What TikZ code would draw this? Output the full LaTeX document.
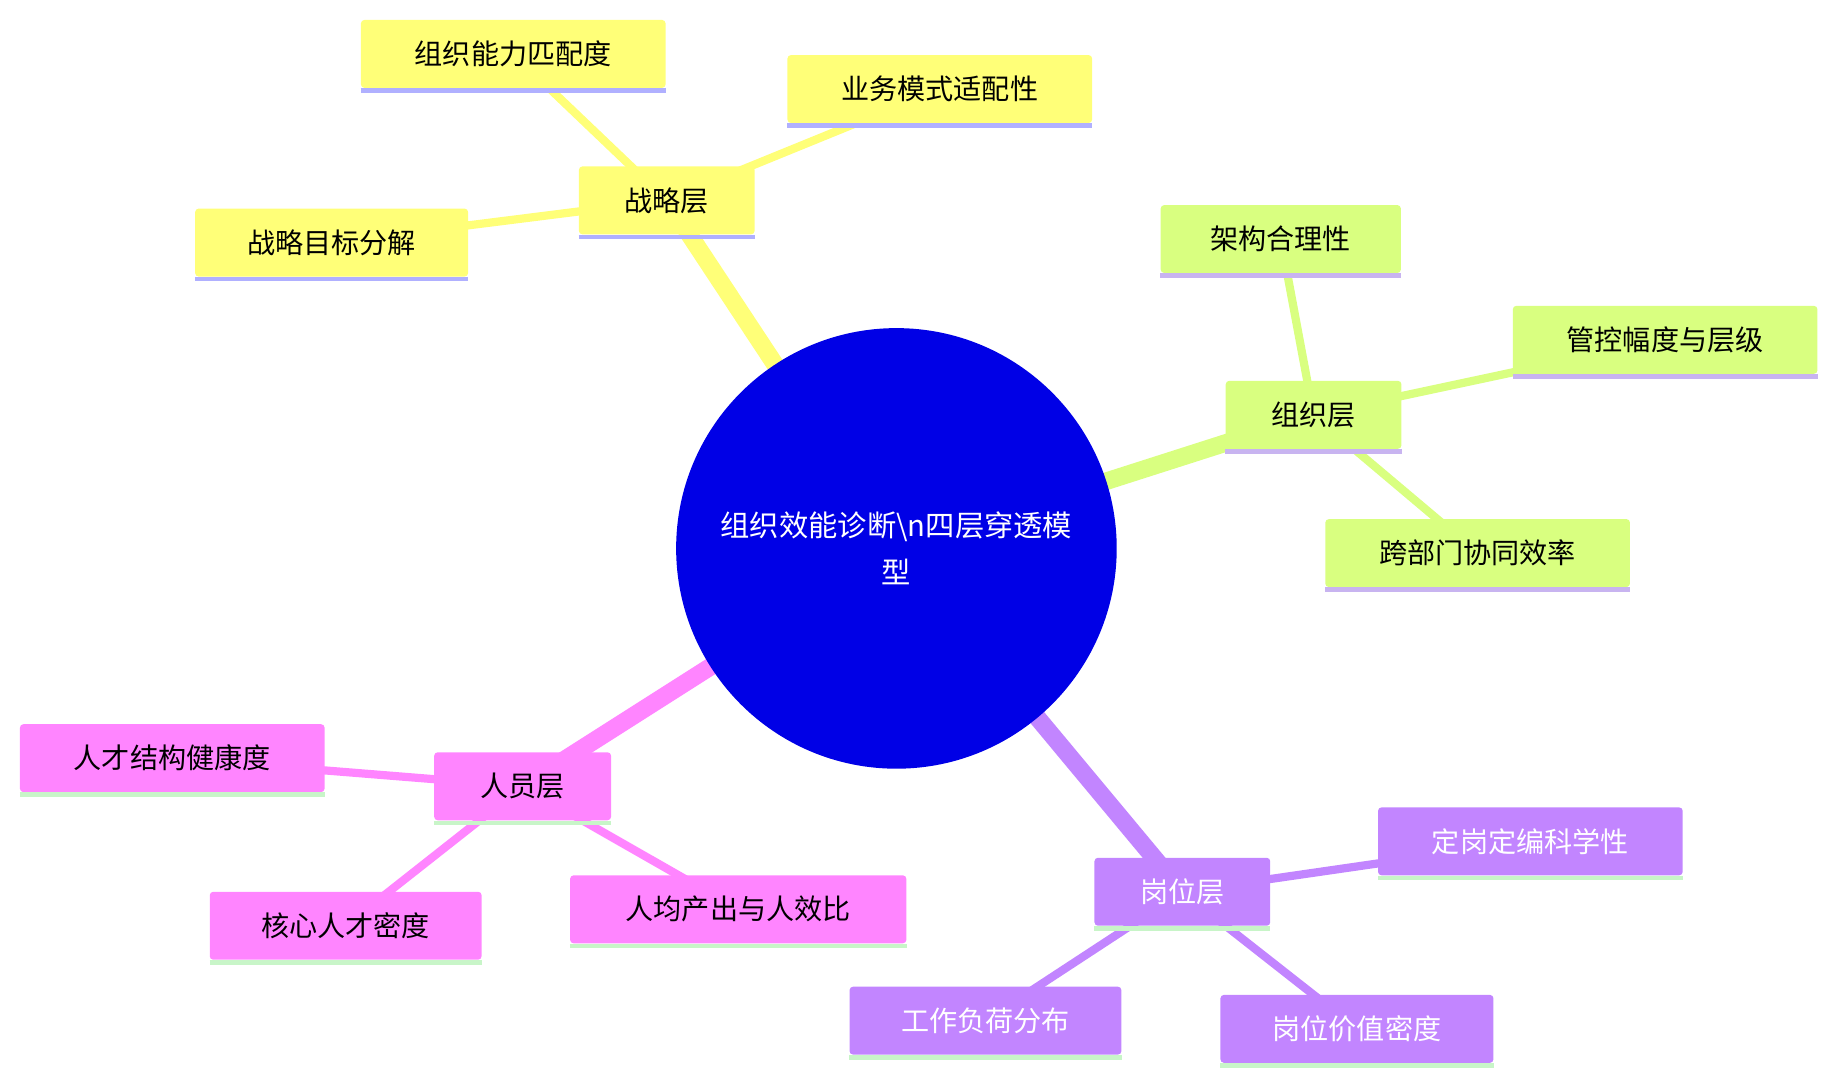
\documentclass[tikz,border=0pt]{standalone}
\usepackage{fontspec}
\setmainfont{Noto Sans CJK SC}
\begin{document}
\begin{tikzpicture}[x=1pt,y=-1pt,
  box/.style={rounded corners=3pt,inner sep=0pt,font=\fontsize{24}{28}\selectfont},
  e1/.style={line width=15pt},
  e2/.style={line width=7pt}]
\useasboundingbox (0,0) rectangle (1560,919);
\definecolor{yel}{HTML}{FFFF78}\definecolor{grn}{HTML}{D9FF80}
\definecolor{pnk}{HTML}{FF85FF}\definecolor{pur}{HTML}{C285FF}
\definecolor{ulb}{HTML}{B0B0FF}\definecolor{ulp}{HTML}{C8B4F0}
\definecolor{ulg}{HTML}{C8F5C8}\definecolor{ctr}{HTML}{0000E6}
\newcommand\bx[7]{\node[box,fill=#5,text=#7,minimum width=#3pt,minimum height=58pt] (#1) at #2 {#4};
  \draw[#6,line width=4pt] ([yshift=-2pt]#1.south west) -- ([yshift=-2pt]#1.south east);}
% edges first (coordinates)
\coordinate (C) at (765,468);
\coordinate (s) at (569,171);\coordinate (o) at (1121,354);
\coordinate (p) at (446,671);\coordinate (g) at (1009,761);
\draw[e1,yel] (C)--(s);\draw[e1,grn] (C)--(o);\draw[e1,pnk] (C)--(p);\draw[e1,pur] (C)--(g);
\draw[e2,yel] (s)--(438,46) (s)--(802,76) (s)--(283,207);
\draw[e2,grn] (o)--(1093,204) (o)--(1421,290) (o)--(1261,472);
\draw[e2,pnk] (p)--(147,647) (p)--(295,790) (p)--(630,776);
\draw[e2,pur] (g)--(1306,718) (g)--(841,871) (g)--(1158,878);
\node[circle,fill=ctr,minimum size=376pt,text=white,align=center,font=\fontsize{25}{40}\selectfont] (c) at (C) {组织效能诊断\textbackslash n四层穿透模\\型};
\bx{s1}{(569,171)}{150}{战略层}{yel}{ulb}{black}
\bx{s2}{(438,46)}{260}{组织能力匹配度}{yel}{ulb}{black}
\bx{s3}{(802,76)}{260}{业务模式适配性}{yel}{ulb}{black}
\bx{s4}{(283,207)}{233}{战略目标分解}{yel}{ulb}{black}
\bx{o1}{(1121,354)}{150}{组织层}{grn}{ulp}{black}
\bx{o2}{(1093,204)}{205}{架构合理性}{grn}{ulp}{black}
\bx{o3}{(1421,290)}{260}{管控幅度与层级}{grn}{ulp}{black}
\bx{o4}{(1261,472)}{260}{跨部门协同效率}{grn}{ulp}{black}
\bx{p1}{(446,671)}{151}{人员层}{pnk}{ulg}{black}
\bx{p2}{(147,647)}{260}{人才结构健康度}{pnk}{ulg}{black}
\bx{p3}{(295,790)}{232}{核心人才密度}{pnk}{ulg}{black}
\bx{p4}{(630,776)}{287}{人均产出与人效比}{pnk}{ulg}{black}
\bx{g1}{(1009,761)}{150}{岗位层}{pur}{ulg}{white}
\bx{g2}{(1306,718)}{260}{定岗定编科学性}{pur}{ulg}{white}
\bx{g3}{(841,871)}{232}{工作负荷分布}{pur}{ulg}{white}
\bx{g4}{(1158,878)}{233}{岗位价值密度}{pur}{ulg}{white}
\end{tikzpicture}
\end{document}
